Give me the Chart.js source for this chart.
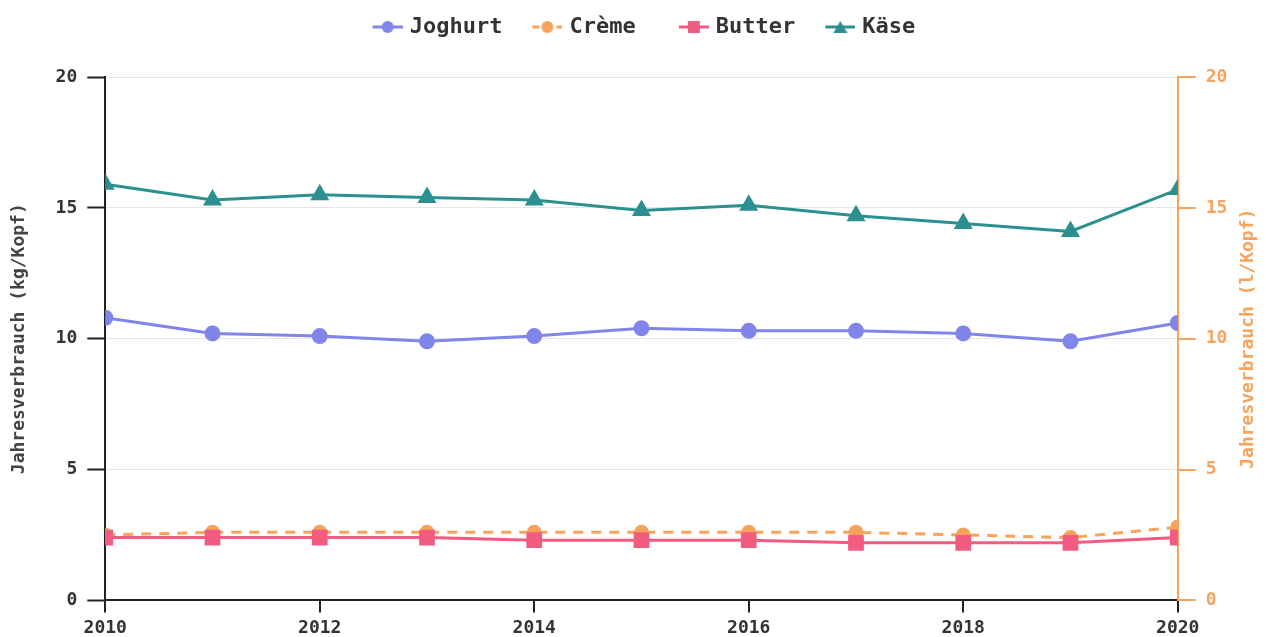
<!DOCTYPE html>
<html>
<head>
<meta charset="utf-8">
<script src="https://cdn.jsdelivr.net/npm/chart.js@4.4.1/dist/chart.umd.min.js"></script>
<style>
html,body{margin:0;padding:0;background:#fff}
#wrap{width:1266px;height:637px}
</style>
</head>
<body>
<div id="wrap"><canvas id="milkChart"></canvas></div>
<script>
/* =====================================================
DATA
===================================================== */

const years=[2010,2011,2012,2013,2014,2015,2016,2017,2018,2019,2020]
const xTicks=[2010,2012,2014,2016,2018,2020]

const joghurt=[10.8,10.2,10.1,9.9,10.1,10.4,10.3,10.3,10.2,9.9,10.6]
const creme=[2.5,2.6,2.6,2.6,2.6,2.6,2.6,2.6,2.5,2.4,2.8]
const butter=[2.4,2.4,2.4,2.4,2.3,2.3,2.3,2.2,2.2,2.2,2.4]
const kaese=[15.9,15.3,15.5,15.4,15.3,14.9,15.1,14.7,14.4,14.1,15.7]

const leftTitle="Jahresverbrauch (kg/Kopf)"
const rightTitle="Jahresverbrauch (l/Kopf)"

const FONT="'DejaVu Sans Mono', monospace"
const C_JOG="#8085e9"
const C_CRE="#f7a35c"
const C_BUT="#f15c80"
const C_KAE="#2b908f"

function pts(vals){
return years.map((y,i)=>({x:y,y:vals[i]}))
}

/* legend marker: line with the point symbol on it
   canvas is wider than the icon so there is a gap on the left */
function legendIcon(color,shape,dashed){
const c=document.createElement("canvas")
c.width=54
c.height=14
const g=c.getContext("2d")
const x0=24
g.strokeStyle=color
g.fillStyle=color
g.lineWidth=3
if(dashed) g.setLineDash([7,5])
g.beginPath()
g.moveTo(x0,7)
g.lineTo(x0+30,7)
g.stroke()
g.setLineDash([])
g.beginPath()
const cx=x0+15
if(shape==="circle") g.arc(cx,7,6,0,Math.PI*2)
else if(shape==="rect") g.rect(cx-6,1,12,12)
else {g.moveTo(cx,1);g.lineTo(cx+7,13);g.lineTo(cx-7,13);g.closePath()}
g.fill()
return c
}

const icons=[
legendIcon(C_JOG,"circle",false),
legendIcon(C_CRE,"circle",true),
legendIcon(C_BUT,"rect",false),
legendIcon(C_KAE,"triangle",false)
]

/* =====================================================
PLUGINS
===================================================== */

/* extra room under the legend */
const legendGap={
id:"legendGap",
beforeInit(chart){
const fit=chart.legend.fit
chart.legend.fit=function(){
fit.bind(chart.legend)()
this.height+=29
}
}
}

/* right axis title reads bottom to top like the left one */
const rightTitlePlugin={
id:"rightTitlePlugin",
afterDraw(chart){
const s=chart.scales.y1
const c=chart.ctx
c.save()
c.font="bold 18px "+FONT
c.fillStyle=C_CRE
c.textAlign="center"
c.textBaseline="middle"
c.translate(s.right-5-10.8,(s.top+s.bottom)/2)
c.rotate(-Math.PI/2)
c.fillText(rightTitle,0,0)
c.restore()
}
}

/* =====================================================
CHART
===================================================== */

const ctx=document.getElementById("milkChart")

new Chart(ctx,{
type:"line",
data:{
datasets:[
{label:"Joghurt",data:pts(joghurt),borderColor:C_JOG,backgroundColor:C_JOG,pointStyle:"circle",pointRadius:6.5,borderWidth:3,yAxisID:"y",order:0},
{label:"Crème",data:pts(creme),borderColor:C_CRE,backgroundColor:C_CRE,pointStyle:"circle",pointRadius:6,borderWidth:3,borderDash:[10,8],yAxisID:"y1",order:2},
{label:"Butter",data:pts(butter),borderColor:C_BUT,backgroundColor:C_BUT,pointStyle:"rect",pointRadius:9,borderWidth:3,yAxisID:"y",order:1},
{label:"Käse",data:pts(kaese),borderColor:C_KAE,backgroundColor:C_KAE,pointStyle:"triangle",pointRadius:8,borderWidth:3,yAxisID:"y",order:3}
]
},
plugins:[legendGap,rightTitlePlugin],
options:{
responsive:true,
maintainAspectRatio:false,
animation:false,
layout:{padding:{left:4,right:2,top:6,bottom:-7}},
plugins:{
legend:{
position:"top",
labels:{
usePointStyle:true,
pointStyleWidth:46,
boxHeight:14,
padding:10,
color:"#333",
font:{family:FONT,size:22,weight:"bold"},
generateLabels:(chart)=>{
const items=Chart.defaults.plugins.legend.labels.generateLabels(chart)
items.sort((a,b)=>a.datasetIndex-b.datasetIndex)
items.forEach(it=>{
it.pointStyle=icons[it.datasetIndex]
it.lineWidth=0
// the reference leaves a wider gap after Crème
if(it.datasetIndex===1) it.text=it.text+" "
})
return items
}
}
},
tooltip:{enabled:false}
},
scales:{
x:{
type:"linear",
min:2010,
max:2020,
afterBuildTicks:(s)=>{s.ticks=xTicks.map(v=>({value:v}))},
border:{color:"#222",width:2},
grid:{drawOnChartArea:false,color:"#222",tickColor:"#222",tickLength:12,tickWidth:2,lineWidth:2},
ticks:{color:"#333",font:{family:FONT,size:18,weight:"bold"},padding:5,maxRotation:0,callback:v=>String(v)}
},
y:{
position:"left",
min:0,
max:20,
border:{color:"#222",width:2},
grid:{color:"#e6e6e6",tickColor:"#222",tickLength:18,tickWidth:2,lineWidth:1},
ticks:{stepSize:5,color:"#333",font:{family:FONT,size:18,weight:"bold"},padding:10},
title:{display:true,text:leftTitle,color:"#444",font:{family:FONT,size:18,weight:"bold"},padding:{top:5,bottom:15}}
},
y1:{
position:"right",
min:0,
max:20,
border:{color:C_CRE,width:2},
grid:{drawOnChartArea:false,color:C_CRE,tickColor:C_CRE,tickLength:18,tickWidth:2,lineWidth:2},
ticks:{stepSize:5,color:C_CRE,font:{family:FONT,size:18,weight:"bold"},padding:10},
title:{display:true,text:rightTitle,color:"rgba(0,0,0,0)",font:{family:FONT,size:18,weight:"bold"},padding:{top:5,bottom:0}}
}
}
}
})
</script>
</body>
</html>
